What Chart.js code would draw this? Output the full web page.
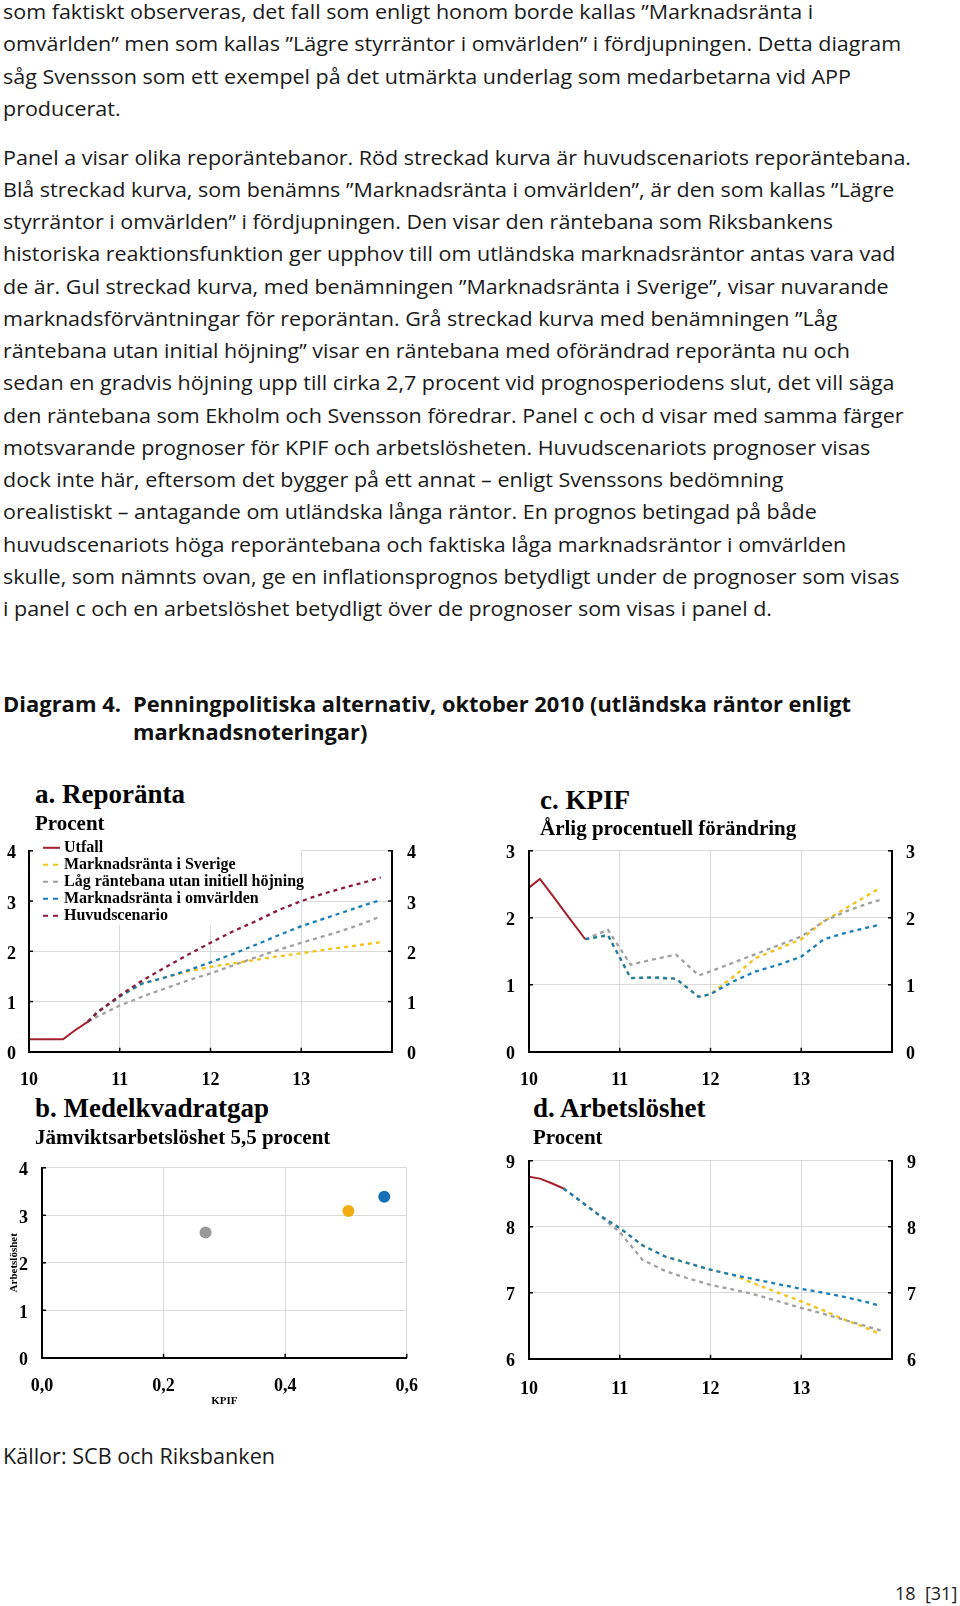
<!DOCTYPE html>
<html lang="sv">
<head>
<meta charset="utf-8">
<title>Diagram 4. Penningpolitiska alternativ</title>
<script src="https://cdn.jsdelivr.net/npm/chart.js@4.4.1/dist/chart.umd.min.js"></script>
<style>
  html, body { margin: 0; padding: 0; background: #fff; }
  body { width: 960px; height: 1606px; position: relative; overflow: hidden;
         font-family: "Open Sans", "Noto Sans", sans-serif; color: #1a1a1a; }
  .txt { position: absolute; left: 3px; font-size: 20px; line-height: 32.25px;
         white-space: nowrap; transform-origin: 0 0; }
  .rubrik { position: absolute; font-size: 21px; font-weight: bold; line-height: 27.5px;
            white-space: nowrap; transform-origin: 0 0; color: #111; }
  .ptitle { position: absolute; z-index: 2; font-family: "Liberation Serif", serif; font-weight: bold;
            color: #000; white-space: nowrap; }
  .h1 { font-size: 27px; line-height: 30px; }
  .h2 { font-size: 21px; line-height: 24px; }
  canvas { position: absolute; z-index: 1; }
</style>
</head>
<body>

<div class="txt" id="p1" style="top:-4px">
som faktiskt observeras, det fall som enligt honom borde kallas ”Marknadsränta i<br>
omvärlden” men som kallas ”Lägre styrräntor i omvärlden” i fördjupningen. Detta diagram<br>
såg Svensson som ett exempel på det utmärkta underlag som medarbetarna vid APP<br>
producerat.
</div>

<div class="txt" id="p2" style="top:141.5px">
<span id="refLine">Panel a visar olika reporäntebanor. Röd streckad kurva är huvudscenariots reporäntebana.</span><br>
Blå streckad kurva, som benämns ”Marknadsränta i omvärlden”, är den som kallas ”Lägre<br>
styrräntor i omvärlden” i fördjupningen. Den visar den räntebana som Riksbankens<br>
historiska reaktionsfunktion ger upphov till om utländska marknadsräntor antas vara vad<br>
de är. Gul streckad kurva, med benämningen ”Marknadsränta i Sverige”, visar nuvarande<br>
marknadsförväntningar för reporäntan. Grå streckad kurva med benämningen ”Låg<br>
räntebana utan initial höjning” visar en räntebana med oförändrad reporänta nu och<br>
sedan en gradvis höjning upp till cirka 2,7 procent vid prognosperiodens slut, det vill säga<br>
den räntebana som Ekholm och Svensson föredrar. Panel c och d visar med samma färger<br>
motsvarande prognoser för KPIF och arbetslösheten. Huvudscenariots prognoser visas<br>
dock inte här, eftersom det bygger på ett annat – enligt Svenssons bedömning<br>
orealistiskt – antagande om utländska långa räntor. En prognos betingad på både<br>
huvudscenariots höga reporäntebana och faktiska låga marknadsräntor i omvärlden<br>
skulle, som nämnts ovan, ge en inflationsprognos betydligt under de prognoser som visas<br>
i panel c och en arbetslöshet betydligt över de prognoser som visas i panel d.
</div>

<div class="rubrik" id="rub1" style="left:3px;top:691px">Diagram 4.</div>
<div class="rubrik" id="rub2" style="left:133px;top:691px"><span id="rubLine">Penningpolitiska alternativ, oktober 2010 (utländska räntor enligt</span><br>marknadsnoteringar)</div>

<div class="ptitle h1" style="left:35px;top:779px">a. Reporänta</div>
<div class="ptitle h2" style="left:35px;top:811px">Procent</div>
<div class="ptitle h1" style="left:540px;top:785px">c. KPIF</div>
<div class="ptitle h2" style="left:540px;top:816px">Årlig procentuell förändring</div>
<div class="ptitle h1" style="left:35px;top:1093px">b. Medelkvadratgap</div>
<div class="ptitle h2" style="left:35px;top:1125px">Jämviktsarbetslöshet 5,5 procent</div>
<div class="ptitle h1" style="left:533px;top:1093px">d. Arbetslöshet</div>
<div class="ptitle h2" style="left:533px;top:1125px">Procent</div>

<canvas id="chartA" width="430" height="265" style="left:0;top:830px"></canvas>
<canvas id="chartC" width="440" height="265" style="left:490px;top:830px"></canvas>
<canvas id="chartB" width="436" height="265" style="left:0;top:1150px"></canvas>
<canvas id="chartD" width="440" height="265" style="left:490px;top:1140px"></canvas>

<div class="txt" id="kallor" style="top:1441px;font-size:21px;line-height:30px">Källor: SCB och Riksbanken</div>
<div class="txt" style="left:895px;top:1581px;font-size:18px;line-height:24px">18 &nbsp;[31]</div>

<script>
// panel a: reporänta
const repoUtfallX = [10.0, 10.375, 10.5, 10.65];
const repoUtfall = [0.25, 0.25, 0.42, 0.6];
const repoPrognosX = [10.65, 10.75, 11.0, 11.25, 11.5, 11.75, 12.0, 12.25, 12.5, 12.75, 13.0, 13.25, 13.5, 13.75, 13.875];
const repoSverige = [0.6, 0.78, 1.1, 1.36, 1.48, 1.6, 1.69, 1.76, 1.83, 1.9, 1.96, 2.03, 2.09, 2.15, 2.18];
const repoLag = [0.6, 0.7, 0.92, 1.1, 1.26, 1.42, 1.56, 1.72, 1.88, 2.03, 2.17, 2.3, 2.44, 2.6, 2.7];
const repoOmvarlden = [0.6, 0.78, 1.1, 1.36, 1.48, 1.62, 1.78, 1.95, 2.13, 2.32, 2.5, 2.65, 2.8, 2.95, 3.02];
const repoHuvud = [0.6, 0.78, 1.12, 1.42, 1.68, 1.93, 2.17, 2.4, 2.6, 2.82, 3.0, 3.15, 3.28, 3.4, 3.47];

// panel c: KPIF
const kpifUtfallX = [10.0, 10.12, 10.25, 10.42, 10.62];
const kpifUtfall = [2.45, 2.58, 2.35, 2.04, 1.68];
const kpifPrognosX = [10.62, 10.87, 11.12, 11.37, 11.62, 11.87, 12.0, 12.25, 12.5, 12.75, 13.0, 13.25, 13.5, 13.75, 13.875];
const kpifSverige = [1.68, 1.74, 1.1, 1.11, 1.09, 0.82, 0.86, 1.12, 1.4, 1.54, 1.68, 1.95, 2.15, 2.35, 2.45];
const kpifLag = [1.68, 1.82, 1.3, 1.38, 1.45, 1.14, 1.2, 1.33, 1.46, 1.59, 1.72, 1.95, 2.1, 2.22, 2.27];
const kpifOmvarlden = [1.68, 1.74, 1.1, 1.11, 1.09, 0.82, 0.86, 1.05, 1.2, 1.3, 1.42, 1.68, 1.78, 1.86, 1.9];

// panel b: medelkvadratgap
const gapLabels = ['Låg räntebana utan initiell höjning', 'Marknadsränta i Sverige', 'Marknadsränta i omvärlden'];
const gapKpif = [0.269, 0.504, 0.563];
const gapArbetsloshet = [2.64, 3.09, 3.39];
const gapColors = ['#999999', '#F0AE14', '#1670B8'];

// panel d: arbetslöshet
const arbUtfallX = [10.0, 10.12, 10.25, 10.38];
const arbUtfall = [8.76, 8.73, 8.66, 8.58];
const arbPrognosX = [10.38, 10.5, 10.75, 11.0, 11.25, 11.5, 11.75, 12.0, 12.25, 12.5, 12.75, 13.0, 13.25, 13.5, 13.75, 13.875];
const arbSverige = [8.58, 8.46, 8.2, 7.98, 7.72, 7.55, 7.45, 7.35, 7.27, 7.13, 7.0, 6.87, 6.73, 6.58, 6.45, 6.37];
const arbLag = [8.58, 8.46, 8.2, 7.92, 7.5, 7.33, 7.22, 7.12, 7.05, 6.97, 6.87, 6.77, 6.68, 6.58, 6.48, 6.43];
const arbOmvarlden = [8.58, 8.46, 8.2, 7.98, 7.72, 7.55, 7.45, 7.35, 7.27, 7.2, 7.13, 7.06, 7.0, 6.93, 6.85, 6.8];

const RED = '#A3202F';
const MAROON = '#8A1B3C';
const YELLOW = '#F2C318';
const GRAY = '#A0A0A0';
const BLUE = '#1B7DB5';
const GRID = '#d9d9d9';
const DASH = [4, 4];

Chart.defaults.font.family = '"Liberation Serif", "Times New Roman", serif';
Chart.defaults.color = '#000';

const tickFont = { size: 18, weight: 'bold' };

function pts(xs, ys) {
  return xs.map((x, i) => ({ x: x, y: ys[i] }));
}

function line(label, xs, ys, color, dashed, order) {
  return {
    label: label,
    data: pts(xs, ys),
    borderColor: color,
    borderWidth: dashed ? 2.3 : 2,
    borderDash: dashed ? DASH : [],
    pointRadius: 0,
    tension: 0,
    fill: false,
    order: order
  };
}

// small tick marks pointing into the plot
const innerTicks = {
  id: 'innerTicks',
  afterDatasetsDraw(chart) {
    const ctx = chart.ctx, a = chart.chartArea;
    ctx.save();
    ctx.strokeStyle = '#000';
    ctx.lineWidth = 1.5;
    Object.values(chart.scales).forEach(s => {
      s.ticks.forEach(t => {
        const p = s.getPixelForValue(t.value);
        ctx.beginPath();
        if (s.axis === 'x') { ctx.moveTo(p, a.bottom); ctx.lineTo(p, a.bottom - 4); }
        else if (s.position === 'left') { ctx.moveTo(a.left, p); ctx.lineTo(a.left + 4, p); }
        else { ctx.moveTo(a.right, p); ctx.lineTo(a.right - 4, p); }
        ctx.stroke();
      });
    });
    ctx.restore();
  }
};

// legend of panel a, on a white box over the grid
const legendA = {
  id: 'legendA',
  beforeDatasetsDraw(chart) {
    const ctx = chart.ctx, a = chart.chartArea;
    ctx.save();
    ctx.fillStyle = '#fff';
    ctx.fillRect(a.left + 2, a.top - 2, 270, 76);
    ctx.restore();
  },
  afterDatasetsDraw(chart) {
    const ctx = chart.ctx, a = chart.chartArea;
    ctx.save();
    ctx.font = 'bold 16px "Liberation Serif"';
    ctx.textBaseline = 'middle';
    chart.data.datasets.forEach((ds, i) => {
      const y = a.top - 3 + i * 17;
      ctx.strokeStyle = ds.borderColor;
      ctx.lineWidth = 2;
      ctx.setLineDash(ds.borderDash.length ? [5, 5] : []);
      ctx.beginPath();
      ctx.moveTo(a.left + 14, y);
      ctx.lineTo(a.left + 31, y);
      ctx.stroke();
      ctx.setLineDash([]);
      ctx.fillStyle = '#000';
      ctx.fillText(ds.label, a.left + 35, y);
    });
    ctx.restore();
  }
};

function yearAxis(pad) {
  return {
    type: 'linear', min: 10, max: 14,
    afterFit: s => { s.height = s.chart.$xh; },
    ticks: { stepSize: 1, padding: pad, font: tickFont, maxRotation: 0, autoSkip: false,
             callback: v => (v < 14 ? String(v) : '') },
    grid: { color: GRID, lineWidth: 1, drawTicks: false },
    border: { color: '#000', width: 2, z: 1 }
  };
}

function valueAxis(pos, min, max, width, pad) {
  return {
    position: pos, min: min, max: max,
    afterFit: s => { s.width = width; },
    ticks: { stepSize: 1, padding: pad, font: tickFont, labelOffset: 3 },
    grid: { display: pos === 'left', color: GRID, lineWidth: 1, drawTicks: false },
    border: { color: '#000', width: 2, z: 1 }
  };
}

// move the canvas so that the plot area lands on the printed plot area
function place(chart, top, bottom) {
  const cssTop = top - chart.chartArea.top;
  chart.canvas.style.top = cssTop + 'px';
  chart.$xh = cssTop + chart.canvas.height - bottom;
  chart.update();
}

function lineChart(id, datasets, min, max, o, extra) {
  const chart = new Chart(document.getElementById(id), {
    type: 'line',
    data: { datasets: datasets },
    options: {
      responsive: false,
      animation: false,
      layout: { padding: { top: 21, left: 0, right: 0, bottom: 0 } },
      plugins: { legend: { display: false }, tooltip: { enabled: false } },
      scales: {
        x: yearAxis(o.xpad),
        y: valueAxis('left', min, max, o.left, o.lpad),
        y2: valueAxis('right', min, max, o.right, o.rpad)
      }
    },
    plugins: [
      { id: 'xh', beforeInit(c) { c.$xh = 45; } },
      extra, innerTicks
    ].filter(Boolean)
  });
  place(chart, o.top, o.bottom);
  return chart;
}

lineChart('chartA', [
  line('Utfall', repoUtfallX, repoUtfall, RED, false, 0),
  line('Marknadsränta i Sverige', repoPrognosX, repoSverige, YELLOW, true, 4),
  line('Låg räntebana utan initiell höjning', repoPrognosX, repoLag, GRAY, true, 3),
  line('Marknadsränta i omvärlden', repoPrognosX, repoOmvarlden, BLUE, true, 2),
  line('Huvudscenario', repoPrognosX, repoHuvud, MAROON, true, 1)
], 0, 4, { top: 851, bottom: 1052, xpad: 18, left: 29, lpad: 13, right: 38, rpad: 15 }, legendA);

lineChart('chartC', [
  line('Utfall', kpifUtfallX, kpifUtfall, RED, false, 0),
  line('Marknadsränta i Sverige', kpifPrognosX, kpifSverige, YELLOW, true, 3),
  line('Låg räntebana utan initiell höjning', kpifPrognosX, kpifLag, GRAY, true, 2),
  line('Marknadsränta i omvärlden', kpifPrognosX, kpifOmvarlden, BLUE, true, 1)
], 0, 3, { top: 851, bottom: 1052, xpad: 18, left: 39, lpad: 14, right: 38, rpad: 14 });

lineChart('chartD', [
  line('Utfall', arbUtfallX, arbUtfall, RED, false, 0),
  line('Marknadsränta i Sverige', arbPrognosX, arbSverige, YELLOW, true, 3),
  line('Låg räntebana utan initiell höjning', arbPrognosX, arbLag, GRAY, true, 2),
  line('Marknadsränta i omvärlden', arbPrognosX, arbOmvarlden, BLUE, true, 1)
], 6, 9, { top: 1161, bottom: 1359, xpad: 20, left: 39, lpad: 14, right: 38, rpad: 15 });

const chB = new Chart(document.getElementById('chartB'), {
  type: 'scatter',
  data: {
    datasets: gapLabels.map((label, i) => ({
      label: label,
      data: [{ x: gapKpif[i], y: gapArbetsloshet[i] }],
      backgroundColor: gapColors[i],
      borderWidth: 0,
      pointRadius: 6
    }))
  },
  options: {
    responsive: false,
    animation: false,
    layout: { padding: { top: 18, left: 0, right: 24, bottom: 0 } },
    plugins: { legend: { display: false }, tooltip: { enabled: false } },
    scales: {
      x: {
        type: 'linear', min: 0, max: 0.6,
        afterFit: s => { s.height = s.chart.$xh; },
        ticks: { stepSize: 0.2, padding: 18, font: tickFont, maxRotation: 0,
                 callback: v => v.toFixed(1).replace('.', ',') },
        grid: { color: GRID, lineWidth: 1, drawTicks: false },
        border: { color: '#000', width: 2, z: 1 },
        title: { display: true, text: 'KPIF', font: { size: 11, weight: 'bold' }, padding: { top: 0, bottom: 0 } }
      },
      y: {
        min: 0, max: 4,
        afterFit: s => { s.width = 42; },
        ticks: { stepSize: 1, padding: 14, font: tickFont, labelOffset: 3 },
        grid: { color: GRID, lineWidth: 1, drawTicks: false },
        border: { color: '#000', width: 2, z: 1 },
        title: { display: true, text: 'Arbetslöshet', font: { size: 11, weight: 'bold' }, padding: { top: 8, bottom: 8 } }
      }
    }
  },
  plugins: [{ id: 'xh', beforeInit(c) { c.$xh = 57; } }, innerTicks]
});
place(chB, 1168, 1358);

// squeeze the running text to the width of the printed page
function fit(el, ref, target) {
  const w = ref.getBoundingClientRect().width;
  el.style.transform = 'scaleX(' + (target / w) + ')';
}
const refLine = document.getElementById('refLine');
const bodyScale = 908 / refLine.getBoundingClientRect().width;
['p1', 'p2'].forEach(id => {
  document.getElementById(id).style.transform = 'scaleX(' + bodyScale + ')';
});
fit(document.getElementById('rub2'), document.getElementById('rubLine'), 718);
fit(document.getElementById('rub1'), document.getElementById('rub1'), 118);
fit(document.getElementById('kallor'), document.getElementById('kallor'), 272);
</script>
</body>
</html>
